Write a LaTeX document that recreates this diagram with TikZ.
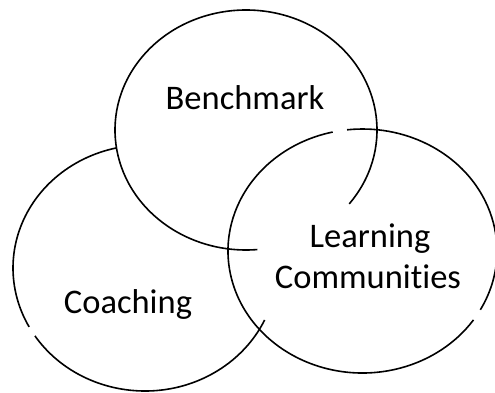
\documentclass[tikz,border=0pt]{standalone}
\usepackage{fontspec}
\setmainfont[Ligatures=NoCommon]{Carlito}
\begin{document}
\begin{tikzpicture}[x=1pt,y=1pt,
  ring/.style={line width=1.6pt,black},
  lbl/.style={inner sep=0pt,anchor=base,font=\fontsize{34.5}{41}\selectfont,align=center}]
\useasboundingbox (0,0) rectangle (495,392);
% Benchmark ellipse: centre (246,262), rx 131, ry 120
\draw[ring] ([shift={(-38:131 and 120)}]246,262) arc[start angle=-38,end angle=275,x radius=131,y radius=120];
% Coaching ellipse: centre (145,124), rx 132, ry 123
\draw[ring] ([shift={(102.7:132 and 123)}]145,124) arc[start angle=102.7,end angle=208.6,x radius=132,y radius=123];
\draw[ring] ([shift={(213.5:132 and 123)}]145,124) arc[start angle=213.5,end angle=335,x radius=132,y radius=123];
% Learning Communities ellipse: centre (362.5,141), rx 134.5, ry 122
\draw[ring] ([shift={(102.8:134.5 and 122)}]362.5,141) arc[start angle=102.8,end angle=325.6,x radius=134.5,y radius=122];
\draw[ring] ([shift={(-28.8:134.5 and 122)}]362.5,141) arc[start angle=-28.8,end angle=96.6,x radius=134.5,y radius=122];
\node[lbl] (bench) at (245,283) {Benchmark};
\node[lbl] (coach) at (128,79) {Coaching};
\node[lbl] (learn) at (370,145) {Learning};
\node[lbl] (comm) at (368,104) {Communities};
\end{tikzpicture}
\end{document}
